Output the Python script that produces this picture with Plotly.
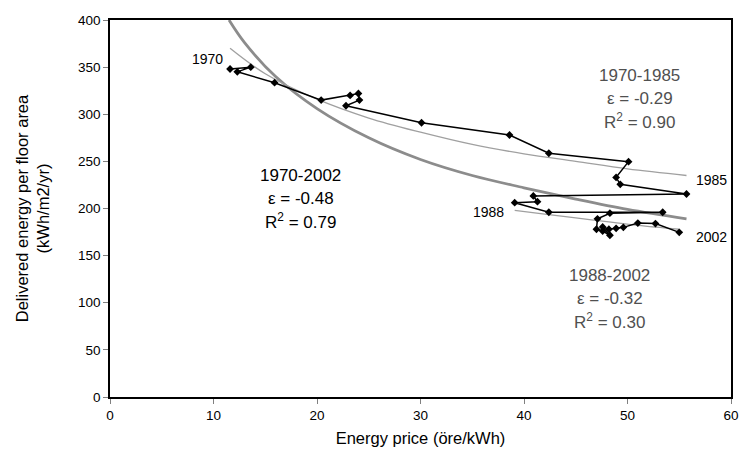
import plotly.graph_objects as go

# Observed yearly data (1970-2002): energy price vs delivered energy
years = list(range(1970, 2003))
price = [11.6, 13.6, 12.3, 15.9, 20.4, 23.2, 24.0, 24.1, 22.8, 30.1,
         38.6, 42.4, 50.1, 48.9, 49.3, 55.7,
         40.9, 41.3, 39.1, 42.4, 53.4,
         48.3, 47.1, 47.0, 47.6, 48.3, 47.6, 48.2, 48.9, 49.6, 51.0, 52.7, 55.0]
energy = [348, 350, 345, 333.5, 315, 320, 322, 315, 309, 291,
          278, 258.6, 249.7, 233, 225.7, 215.4,
          213.3, 207.2, 206.2, 196, 196,
          195, 189, 178, 176, 171.6, 180.5, 178, 179, 180, 184.5, 184, 174.7]

# Trend curves
trend_all_x = [11.5, 13, 16, 20, 25, 30, 35, 40, 45, 50, 55.7]
trend_all_y = [400, 376, 340, 306, 275, 252, 235, 222, 210, 199, 189]
trend_7085_x = [11.6, 15, 20, 25, 30, 35, 40, 45, 50, 55.7]
trend_7085_y = [370, 343, 316, 296, 281, 268, 258, 250, 242, 235]
trend_8802_x = [39.1, 42, 45, 48, 51, 55.0]
trend_8802_y = [198, 194, 190, 186, 182, 178]

x_ticks = [0, 10, 20, 30, 40, 50, 60]
y_ticks = [0, 50, 100, 150, 200, 250, 300, 350, 400]

FONT = "Liberation Sans, Arial, sans-serif"

fig = go.Figure()
fig.add_trace(go.Scatter(x=trend_all_x, y=trend_all_y, mode="lines", line_shape="spline",
                         line=dict(color="#8c8c8c", width=2.8), hoverinfo="skip"))
fig.add_trace(go.Scatter(x=trend_7085_x, y=trend_7085_y, mode="lines", line_shape="spline",
                         line=dict(color="#a0a0a0", width=1.3), hoverinfo="skip"))
fig.add_trace(go.Scatter(x=trend_8802_x, y=trend_8802_y, mode="lines", line_shape="spline",
                         line=dict(color="#a0a0a0", width=1.3), hoverinfo="skip"))
fig.add_trace(go.Scatter(x=price, y=energy, mode="lines+markers", text=years,
                         line=dict(color="black", width=1.5),
                         marker=dict(symbol="diamond", size=6, color="black")))

ann = []
def add_text(x, y, t, color="black", xanchor="center", size=17):
    ann.append(dict(x=x, y=y, xref="x", yref="y", text=t, showarrow=False,
                    xanchor=xanchor, yanchor="middle",
                    font=dict(family=FONT, size=size, color=color)))

add_text(11.1, 359, "1970", xanchor="right", size=14)
add_text(38.3, 196, "1988", xanchor="right", size=14)
add_text(56.4, 230, "1985", xanchor="left", size=14)
add_text(56.4, 170, "2002", xanchor="left", size=14)
g = "#505050"
add_text(51.2, 341, "1970-1985", g)
add_text(51.2, 317, "ε = -0.29", g)
add_text(51.2, 293, "R<sup>2</sup> = 0.90", g)
add_text(18.45, 235, "1970-2002")
add_text(18.45, 211, "ε = -0.48")
add_text(18.45, 187, "R<sup>2</sup> = 0.79")
add_text(48.3, 129, "1988-2002", g)
add_text(48.3, 105, "ε = -0.32", g)
add_text(48.3, 81, "R<sup>2</sup> = 0.30", g)

fig.update_layout(
    width=749, height=462,
    margin=dict(l=110, r=10, t=20, b=65),
    paper_bgcolor="white", plot_bgcolor="white",
    showlegend=False,
    font=dict(family=FONT, size=13, color="black"),
    annotations=ann,
    xaxis=dict(range=[0, 60], tickvals=x_ticks, showgrid=False, zeroline=False,
               showline=True, linecolor="black", linewidth=1.5, mirror=True,
               ticks="outside", ticklen=5, tickcolor="#808080",
               tickfont=dict(family=FONT, size=13.5),
               title=dict(text="Energy price (öre/kWh)", font=dict(family=FONT, size=16.5), standoff=10)),
    yaxis=dict(range=[0, 400], tickvals=y_ticks, showgrid=False, zeroline=False,
               showline=True, linecolor="black", linewidth=1.5, mirror=True,
               ticks="outside", ticklen=5, tickcolor="#808080",
               tickfont=dict(family=FONT, size=13.5),
               title=dict(text="Delivered energy per floor area<br>(kWh/m2/yr)",
                          font=dict(family=FONT, size=16.5), standoff=24)),
)

fig.write_html("out.html", config={"displayModeBar": False},
               post_script="document.body.style.margin='0';document.body.style.overflow='hidden';")
